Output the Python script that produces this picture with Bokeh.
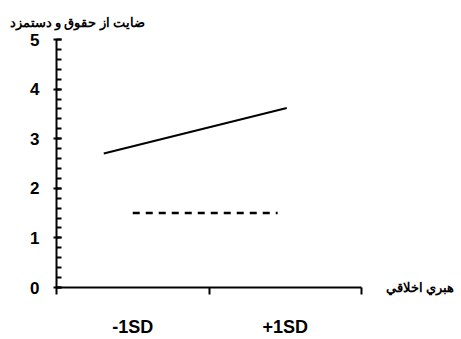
from bokeh.plotting import figure
from bokeh.models import FixedTicker, LinearAxis
from bokeh.embed import file_html
from bokeh.resources import INLINE

# data
groups = ["-1SD", "+1SD"]
group_pos = [0.5, 1.5]
solid_x = [0.31, 1.51]
solid_y = [2.7, 3.62]
dashed_x = [0.5, 1.45]
dashed_y = [1.5, 1.5]
y_ticks = [0, 1, 2, 3, 4, 5]
x_ticks = [0, 1, 2]
y_title = "ضايت از حقوق و دستمزد"
x_title = "هبري اخلاقي"

FONT = "Liberation Sans"

p = figure(width=461, height=339, output_backend="svg", toolbar_location=None,
           x_range=(0, 2), y_range=(0, 5),
           min_border_left=56, min_border_right=100, min_border_top=39, min_border_bottom=50)
p.outline_line_color = None
p.grid.visible = False

# title (y-axis caption at top-left)
p.title.text = y_title
p.title.align = "left"
p.title.offset = -47
p.title.standoff = 20
p.title.text_font = FONT
p.title.text_font_style = "bold"
p.title.text_font_size = "12.5px"
p.title.text_color = "black"

# y axis
ya = p.yaxis[0]
ya.ticker = FixedTicker(ticks=y_ticks, minor_ticks=[i / 5 for i in range(26)])
ya.axis_line_width = 2
ya.major_tick_line_width = 2
ya.minor_tick_line_width = 2
ya.major_tick_out = 3
ya.major_tick_in = 5
ya.minor_tick_out = 0
ya.minor_tick_in = 5
ya.major_label_text_font = FONT
ya.major_label_text_font_style = "bold"
ya.major_label_text_font_size = "17px"
ya.major_label_standoff = 14
ya.major_label_text_color = "black"

# x axis (ticks only)
xa = p.xaxis[0]
xa.ticker = FixedTicker(ticks=x_ticks, minor_ticks=[])
xa.axis_line_width = 2
xa.major_tick_line_width = 2
xa.major_tick_out = 7
xa.major_tick_in = 0
xa.major_label_overrides = {t: "" for t in x_ticks}
xa.major_label_standoff = 0

# x axis (group labels)
xg = LinearAxis(ticker=FixedTicker(ticks=group_pos, minor_ticks=[]),
                major_label_overrides={pos: g for pos, g in zip(group_pos, groups)})
xg.axis_line_color = None
xg.major_tick_line_color = None
xg.major_tick_in = 0
xg.major_tick_out = 0
xg.major_label_standoff = 22
xg.major_label_text_font = FONT
xg.major_label_text_font_style = "bold"
xg.major_label_text_font_size = "18px"
xg.major_label_text_color = "black"
p.add_layout(xg, "below")

# right axis used for the x-axis caption
xr = LinearAxis(ticker=FixedTicker(ticks=[0], minor_ticks=[]),
                major_label_overrides={0: x_title})
xr.axis_line_color = None
xr.major_tick_line_color = None
xr.major_tick_in = 0
xr.major_tick_out = 0
xr.major_label_standoff = 24
xr.major_label_text_font = FONT
xr.major_label_text_font_style = "bold"
xr.major_label_text_font_size = "12.5px"
xr.major_label_text_color = "black"
p.add_layout(xr, "right")

# series
p.line(solid_x, solid_y, line_color="black", line_width=2)
p.line(dashed_x, dashed_y, line_color="black", line_width=2.5, line_dash="7 6")

open("out.html", "w").write(file_html(p, INLINE))
